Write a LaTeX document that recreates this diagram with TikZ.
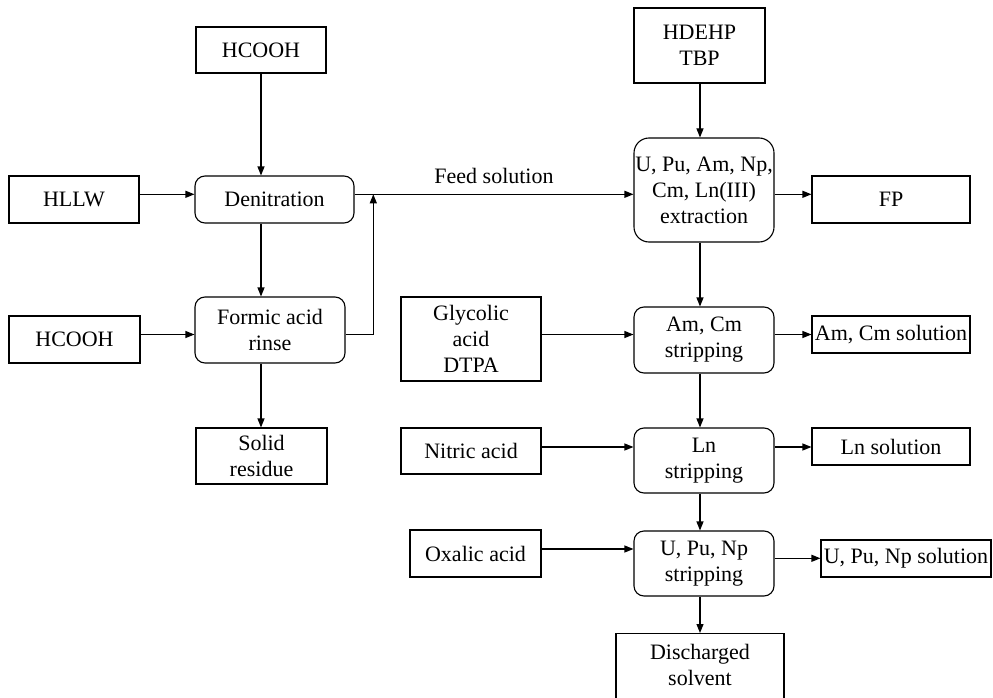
\documentclass[tikz,border=0pt]{standalone}
\usepackage{fontspec}
\setmainfont{Liberation Serif}
\usetikzlibrary{arrows.meta}
\begin{document}
\begin{tikzpicture}[x=1pt,y=-1pt,line width=1.1pt,
  every node/.style={font=\fontsize{22}{26}\selectfont,inner sep=0pt,align=center},
  sq/.style={draw,rectangle},
  rnd/.style={draw,rectangle,rounded corners=10pt},
  arr/.style={-{Triangle[length=9pt,width=7pt]}}]
\useasboundingbox (0,0) rectangle (993,698);
% left column
\node[sq,minimum width=130pt,minimum height=46pt] (hc1) at (261,50) {HCOOH};
\node[sq,minimum width=130pt,minimum height=47pt] (hllw) at (74,199.5) {HLLW};
\node[rnd,minimum width=159pt,minimum height=47pt] (denit) at (274.5,199.5) {Denitration};
\node[sq,minimum width=131pt,minimum height=47pt] (hc2) at (74.5,339.5) {HCOOH};
\node[rnd,minimum width=150pt,minimum height=66pt] (formic) at (270,330) {Formic acid\\rinse};
\node[sq,minimum width=131pt,minimum height=56pt] (solid) at (261.5,456) {Solid\\residue};
% middle column
\node[sq,minimum width=140pt,minimum height=84pt] (glyc) at (471,339) {Glycolic\\acid\\DTPA};
\node[sq,minimum width=140pt,minimum height=46pt] (nitric) at (471,451) {Nitric acid};
\node[sq,minimum width=131pt,minimum height=47pt] (oxalic) at (475.5,553.5) {Oxalic acid};
% right process column
\node[sq,minimum width=131pt,minimum height=75pt] (hdehp) at (699.5,45.5) {HDEHP\\TBP};
\node[rnd,rounded corners=15pt,minimum width=140pt,minimum height=104pt] (extr) at (704,190) {U, Pu, Am, Np,\\Cm, Ln(III)\\extraction};
\node[rnd,minimum width=140pt,minimum height=66pt] (amcm) at (704,340) {Am, Cm\\stripping};
\node[rnd,minimum width=140pt,minimum height=65pt] (ln) at (704,460.5) {Ln\\stripping};
\node[rnd,minimum width=140pt,minimum height=65pt] (upnp) at (704,563.5) {U, Pu, Np\\stripping};
\node[sq,minimum width=168pt,minimum height=80pt,anchor=north] (disch) at (700,633) {};
\node (dischtxt) at (700,665) {Discharged\\solvent};
% products
\node[sq,minimum width=158pt,minimum height=47pt] (fp) at (891,199.5) {FP};
\node[sq,minimum width=158pt,minimum height=37pt] (amcmsol) at (891,334.5) {Am, Cm solution};
\node[sq,minimum width=158pt,minimum height=37pt] (lnsol) at (891,446.5) {Ln solution};
\node[sq,minimum width=170pt,minimum height=37pt] (upnpsol) at (906,558.5) {U, Pu, Np solution};
% helper coordinates
\coordinate (yfeed) at (0,194.3);
\coordinate (yr) at (0,334.5);
\coordinate (yln) at (0,447);
\coordinate (yox) at (0,549);
\coordinate (yup) at (0,558.3);
\coordinate (xl) at (261,0);
\coordinate (xloop) at (373.3,0);
\coordinate (xr) at (700,0);
% connectors
\draw[arr] (hc1.south -| xl) -- (denit.north -| xl);
\draw[arr] (hllw.east |- yfeed) -- (denit.west |- yfeed);
\draw[arr] (denit.south -| xl) -- (formic.north -| xl);
\draw[arr] (hc2.east |- yr) -- (formic.west |- yr);
\draw[arr] (formic.south -| xl) -- (solid.north -| xl);
\draw[arr] (formic.east |- yr) -| (xloop |- yfeed);
\draw[arr] (denit.east |- yfeed) -- node[above=10pt]{Feed solution} (extr.west |- yfeed);
\draw[arr] (hdehp.south -| xr) -- (extr.north -| xr);
\draw[arr] (extr.east |- yfeed) -- (fp.west |- yfeed);
\draw[arr] (extr.south -| xr) -- (amcm.north -| xr);
\draw[arr] (glyc.east |- yr) -- (amcm.west |- yr);
\draw[arr] (amcm.east |- yr) -- (amcmsol.west |- yr);
\draw[arr] (amcm.south -| xr) -- (ln.north -| xr);
\draw[arr] (nitric.east |- yln) -- (ln.west |- yln);
\draw[arr] (ln.east |- yln) -- (lnsol.west |- yln);
\draw[arr] (ln.south -| xr) -- (upnp.north -| xr);
\draw[arr] (oxalic.east |- yox) -- (upnp.west |- yox);
\draw[arr] (upnp.east |- yup) -- (upnpsol.west |- yup);
\draw[arr] (upnp.south -| xr) -- (disch.north -| xr);
\end{tikzpicture}
\end{document}
